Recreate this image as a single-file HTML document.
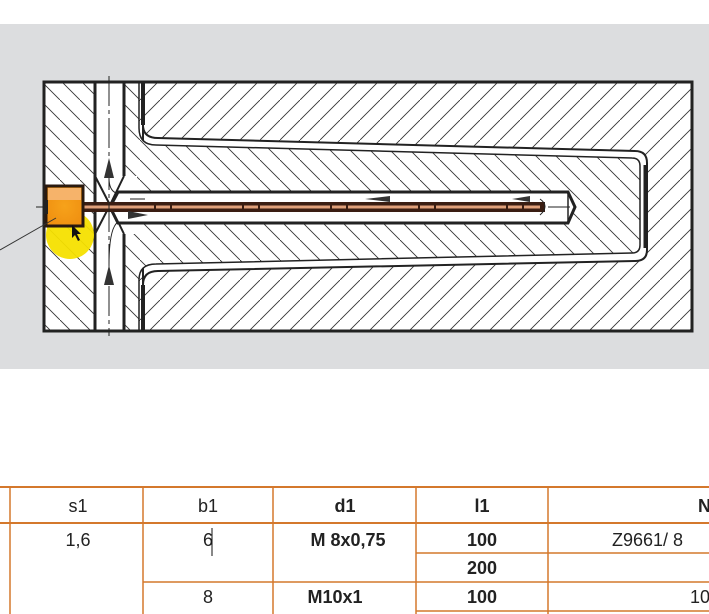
<!DOCTYPE html>
<html><head><meta charset="utf-8"><style>
html,body{margin:0;padding:0;background:#fff;width:709px;height:614px;overflow:hidden}
svg{display:block}
text{font-family:"Liberation Sans",Arial,sans-serif;font-size:18px;fill:#222}
.b{font-weight:bold}
</style></head><body>
<svg width="709" height="614" viewBox="0 0 709 614" xmlns="http://www.w3.org/2000/svg">
<defs>
<pattern id="fw" patternUnits="userSpaceOnUse" width="20" height="20">
<path d="M-2,22 L22,-2" stroke="#333" stroke-width="0.9"/>
</pattern>
<pattern id="bw" patternUnits="userSpaceOnUse" width="20" height="20">
<path d="M-2,-2 L22,22" stroke="#333" stroke-width="0.9"/>
</pattern>
<radialGradient id="og" cx="0.5" cy="0.5" r="0.6"><stop offset="0" stop-color="#f7a21a"/><stop offset="1" stop-color="#ef8f10"/></radialGradient>
</defs>
<rect x="0" y="24" width="709" height="345" fill="#dcdddf"/>
<rect x="44" y="82" width="648" height="249" fill="#fff"/>
<rect x="44" y="82" width="648" height="249" fill="url(#fw)"/>
<rect x="44" y="82" width="51" height="249" fill="#fff"/>
<rect x="44" y="82" width="51" height="249" fill="url(#bw)"/>
<rect x="95" y="82" width="29" height="249" fill="#fff" stroke="#222" stroke-width="3"/>
<path d="M143,82 L143,125 Q143,138 158,138 L635,151 Q647,151 647,163 L647,250 Q647,261 635,261 L158,271 Q143,271 143,285 L143,331 Z" fill="#fff" stroke="#222" stroke-width="2"/>
<path d="M124,82 L139,82 L139,128 Q139,145 156,145 L632,158 Q640,158 640,166 L640,245 Q640,253 632,253 L156,264 Q139,264 139,280 L139,331 L124,331 Z" fill="#fff"/>
<path d="M124,82 L139,82 L139,128 Q139,145 156,145 L632,158 Q640,158 640,166 L640,245 Q640,253 632,253 L156,264 Q139,264 139,280 L139,331 L124,331 Z" fill="url(#bw)" stroke="#222" stroke-width="1.5"/>
<line x1="143" y1="82" x2="143" y2="125" stroke="#222" stroke-width="4"/>
<line x1="143" y1="285" x2="143" y2="331" stroke="#222" stroke-width="4"/>
<line x1="645" y1="165" x2="645" y2="248" stroke="#222" stroke-width="3"/>
<rect x="97" y="176" width="40" height="58" fill="#fff"/>
<line x1="124" y1="82" x2="124" y2="176" stroke="#222" stroke-width="3"/>
<line x1="124" y1="234" x2="124" y2="331" stroke="#222" stroke-width="3"/>
<path d="M95,176 L110,205 L95,234 M124,176 L110,205 L124,234" fill="none" stroke="#222" stroke-width="2"/>
<path d="M118,192 L568,192 L575,207 L568,223 L118,223 L110,207 Z" fill="#fff" stroke="#222" stroke-width="3"/>
<line x1="568" y1="192" x2="568" y2="223" stroke="#222" stroke-width="1.5"/>
<line x1="130" y1="199" x2="145" y2="199" stroke="#222" stroke-width="1"/>
<rect x="80" y="202" width="465" height="10" fill="#3a1d12"/>
<line x1="84" y1="207" x2="540" y2="207" stroke="#e0a07a" stroke-width="3" stroke-dasharray="70 2 14 2"/>
<line x1="109" y1="76" x2="109" y2="336" stroke="#222" stroke-width="1" stroke-dasharray="30 4 4 4"/>
<line x1="36" y1="207" x2="60" y2="207" stroke="#222" stroke-width="1"/>
<line x1="548" y1="207" x2="570" y2="207" stroke="#222" stroke-width="1"/>
<path d="M104,178 L109,158 L114,178 Z" fill="#333"/>
<path d="M104,285 L109,265 L114,285 Z" fill="#333"/>
<path d="M109,178 Q109,190 116,193 M109,265 Q109,228 118,222" fill="none" stroke="#222" stroke-width="1"/>
<path d="M128,211 L148,215 L128,219 Z" fill="#333"/>
<path d="M390,196 L365,199 L390,202 Z" fill="#333"/>
<path d="M530,196 L512,199 L530,202 Z" fill="#333"/>
<path d="M540,199 Q550,206 540,215" fill="none" stroke="#222" stroke-width="1"/>
<!-- outer border -->
<rect x="44" y="82" width="648" height="249" fill="none" stroke="#222" stroke-width="3"/>
<circle cx="70" cy="235" r="24" fill="#f6e000" opacity="0.95"/>
<rect x="46" y="186" width="37" height="40" fill="url(#og)" stroke="#2a1a10" stroke-width="3"/>
<rect x="48" y="188" width="33" height="12" fill="#f6b36a"/>
<rect x="43" y="200" width="5" height="14" fill="#222"/>
<line x1="0" y1="250" x2="56" y2="218" stroke="#333" stroke-width="1"/>
<path d="M72,225 L72,238 L75,235 L78,241 L80,240 L77,234 L81,234 Z" fill="#111"/>
<g stroke="#d4782c" stroke-width="1.5" fill="none">
<line x1="0" y1="487" x2="709" y2="487" stroke-width="2"/>
<line x1="0" y1="523" x2="709" y2="523" stroke-width="2"/>
<line x1="416" y1="553" x2="709" y2="553"/>
<line x1="143" y1="582" x2="709" y2="582"/>
<line x1="416" y1="611" x2="709" y2="611"/>
<line x1="10" y1="487" x2="10" y2="614"/>
<line x1="143" y1="487" x2="143" y2="614"/>
<line x1="273" y1="487" x2="273" y2="614"/>
<line x1="416" y1="487" x2="416" y2="614"/>
<line x1="548" y1="487" x2="548" y2="614"/>
</g>
<text x="78" y="512" text-anchor="middle">s1</text>
<text x="208" y="512" text-anchor="middle">b1</text>
<text x="345" y="512" text-anchor="middle" class="b">d1</text>
<text x="482" y="512" text-anchor="middle" class="b">l1</text>
<text x="698" y="512" class="b">N</text>
<text x="78" y="546" text-anchor="middle">1,6</text>
<text x="208" y="546" text-anchor="middle">6</text>
<line x1="212" y1="528" x2="212" y2="556" stroke="#111" stroke-width="1"/>
<text x="348" y="546" text-anchor="middle" class="b">M  8x0,75</text>
<text x="482" y="546" text-anchor="middle" class="b">100</text>
<text x="612" y="546">Z9661/  8</text>
<text x="482" y="574" text-anchor="middle" class="b">200</text>
<text x="208" y="603" text-anchor="middle">8</text>
<text x="335" y="603" text-anchor="middle" class="b">M10x1</text>
<text x="482" y="603" text-anchor="middle" class="b">100</text>
<text x="690" y="603">10</text>
</svg>
</body></html>
